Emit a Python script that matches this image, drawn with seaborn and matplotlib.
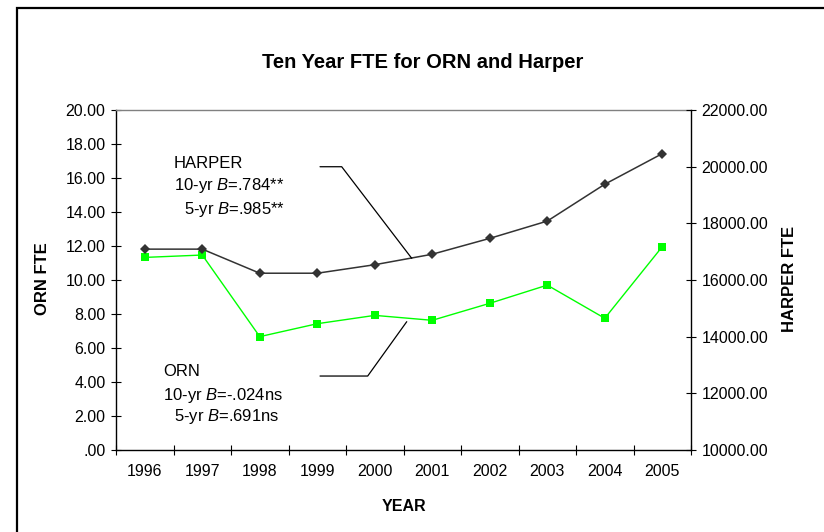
import matplotlib
matplotlib.use("Agg")
import matplotlib.pyplot as plt
import matplotlib.ticker as mticker
from matplotlib.patches import Rectangle
import seaborn as sns

# Datos
years = [1996, 1997, 1998, 1999, 2000, 2001, 2002, 2003, 2004, 2005]
orn_fte = [11.33, 11.47, 6.67, 7.43, 7.92, 7.63, 8.63, 9.70, 7.75, 11.96]
harper_fte = [17090, 17090, 16240, 16240, 16540, 16910, 17470, 18080, 19380, 20460]

harper_notes = ["HARPER", "10-yr $B$=.784**", "5-yr $B$=.985**"]
orn_notes = ["ORN", "10-yr $B$=-.024ns", "5-yr $B$=.691ns"]

sns.set_style("ticks")
plt.rcParams['font.family'] = ['Liberation Sans', 'DejaVu Sans']
plt.rcParams['mathtext.fontset'] = 'custom'
plt.rcParams['mathtext.rm'] = 'Liberation Sans'
plt.rcParams['mathtext.it'] = 'Liberation Sans:italic'
for k in ['text.color', 'axes.labelcolor', 'xtick.color', 'ytick.color', 'axes.edgecolor']:
    plt.rcParams[k] = 'black'

fig = plt.figure(figsize=(8.24, 5.32), dpi=100)
ax = fig.add_axes([0.1408, 0.1541, 0.6978, 0.6391])
ax2 = ax.twinx()

# Series
sns.lineplot(x=years, y=orn_fte, ax=ax, color="#00ff00", lw=1.0,
             marker="s", markersize=5.5, markeredgewidth=0, markerfacecolor="#00ff00")
sns.lineplot(x=years, y=harper_fte, ax=ax2, color="#333333", lw=1.1,
             marker="D", markersize=5.5, markeredgewidth=0, markerfacecolor="#333333")

# Ejes
ax.set_xlim(years[0] - 0.5, years[-1] + 0.5)
ax.set_ylim(0, 20)
ax2.set_ylim(10000, 22000)
ax.set_yticks(range(0, 21, 2))
ax2.set_yticks(range(10000, 22001, 2000))
ax.set_xticks(years)
ax.set_xticks([y + 0.5 for y in [years[0] - 1] + years], minor=True)


def fmt_left(v, pos):
    s = f"{v:.2f}"
    return s[1:] if s.startswith("0") else s


ax.yaxis.set_major_formatter(mticker.FuncFormatter(fmt_left))
ax2.yaxis.set_major_formatter(mticker.FuncFormatter(lambda v, p: f"{v:.2f}"))

ax.tick_params(axis='x', which='major', length=0, pad=10, labelsize=11.5, colors='black')
ax.tick_params(axis='x', which='minor', direction='inout', length=7, width=0.8, bottom=True, colors='black')
ax.tick_params(axis='y', direction='inout', length=7, width=0.8, left=True, pad=4, labelsize=11.5, colors='black')
ax2.tick_params(axis='y', direction='inout', length=7, width=0.8, right=True, pad=4, labelsize=11.5, colors='black')

for sp in ['left', 'bottom']:
    ax.spines[sp].set_color('black')
    ax.spines[sp].set_linewidth(1.0)
ax.spines['top'].set_color('#808080')
ax.spines['top'].set_linewidth(1.0)
ax.spines['right'].set_visible(False)
for sp in ['left', 'bottom', 'top']:
    ax2.spines[sp].set_visible(False)
ax2.spines['right'].set_visible(True)
ax2.spines['right'].set_color('black')
ax2.spines['right'].set_linewidth(1.0)

ax.set_xlabel("YEAR", fontsize=11.5, fontweight='bold', color='black')
ax.xaxis.set_label_coords(0.5, -0.167)
ax.xaxis.label.set_va('center')
ax.set_ylabel("ORN FTE", fontsize=12, fontweight='bold', color='black')
ax.yaxis.set_label_coords(-0.127, 0.504)
ax.yaxis.label.set_va('center')
ax2.set_ylabel("HARPER FTE", fontsize=12, fontweight='bold', rotation=90, color='black')
ax2.yaxis.set_label_coords(1.172, 0.503)
ax2.yaxis.label.set_va('center')

# Titulo
fig.text(0.5134, 0.8816, "Ten Year FTE for ORN and Harper", ha='center', va='center',
         fontsize=14.5, fontweight='bold', color='black')

# Anotaciones
for (x, y), t in zip([(0.1009, 0.8432), (0.1009, 0.7794), (0.1183, 0.7088)], harper_notes):
    ax.text(x, y, t, transform=ax.transAxes, fontsize=12, va='center', ha='left', color='black')
for (x, y), t in zip([(0.0817, 0.2303), (0.0817, 0.1618), (0.1009, 0.1)], orn_notes):
    ax.text(x, y, t, transform=ax.transAxes, fontsize=12, va='center', ha='left', color='black')

ax2.plot([0.3548, 0.3925, 0.5143], [0.8332, 0.8332, 0.5638], transform=ax.transAxes,
         color='black', lw=0.9, clip_on=False)
ax2.plot([0.3548, 0.4377, 0.5056], [0.2176, 0.2176, 0.3774], transform=ax.transAxes,
         color='black', lw=0.9, clip_on=False)

# Marco exterior
fig.patches.append(Rectangle((0.0203, -0.1), 1.2, 1.0844, transform=fig.transFigure,
                             fill=False, edgecolor='black', lw=1.6))

fig.savefig("out.png", dpi=100)
